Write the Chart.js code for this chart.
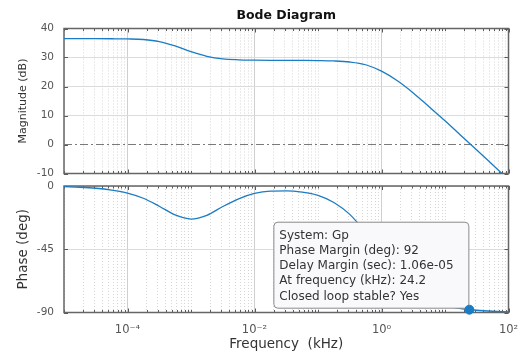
<!DOCTYPE html>
<html><head><meta charset="utf-8">
<script src="https://cdn.jsdelivr.net/npm/chart.js@4.4.1/dist/chart.umd.min.js"></script>
<style>
html,body{margin:0;padding:0;background:#fff;}
body{width:521px;height:353px;position:relative;overflow:hidden;}
canvas{position:absolute;left:0;}
#mag{top:0;}
#ph{top:178px;}
</style></head><body>
<canvas id="mag" width="521" height="180"></canvas>
<canvas id="ph" width="521" height="175"></canvas>
<script>
// ---- data ----
const freqKHz = [1e-5, 1.778e-5, 3.162e-5, 5.623e-5, 1e-4, 1.778e-4, 3.162e-4, 5.623e-4,
  1e-3, 1.778e-3, 3.162e-3, 5.623e-3, 1e-2, 1.778e-2, 3.162e-2, 5.623e-2,
  0.1, 0.1778, 0.3162, 0.5623, 1, 1.778, 3.162, 5.623, 10, 17.78, 31.62, 56.23, 100];
const magnitudeDB = [36.5, 36.5, 36.49, 36.46, 36.4, 36.2, 35.5, 34.0,
  32.0, 30.4, 29.5, 29.2, 29.08, 29.02, 29.0, 28.98,
  28.94, 28.82, 28.45, 27.5, 25.3, 22.0, 17.8, 13.0, 8.2, 3.1, -1.9, -7.0, -12.1];
const phaseDeg = [-0.5, -0.9, -1.6, -2.9, -5.0, -8.7, -14.4, -20.6,
  -23.5, -20.9, -14.6, -9.1, -5.3, -3.6, -3.4, -4.3,
  -6.6, -11.7, -20.2, -33.2, -49.3, -64.2, -74.8, -81.3, -85.1, -87.2, -88.4, -89.1, -89.5];
const zeroLineFreq = [1e-5, 100];
const zeroLineDB = [0, 0];
const magTicks = [-10, 0, 10, 20, 30, 40];
const phaseTicks = [-90, -45, 0];
const freqTickValues = [1e-4, 1e-2, 1, 100];
const freqTickLabels = ['10\u207B\u2074', '10\u207B\u00B2', '10\u2070', '10\u00B2'];
const freqRange = [1e-5, 100];
const marginFreq = [24.2];
const marginPhase = [-88];
const tipLines = ['System: Gp', 'Phase Margin (deg): 92', 'Delay Margin (sec): 1.06e-05',
  'At frequency (kHz): 24.2', 'Closed loop stable? Yes'];

// ---- styling ----
Chart.defaults.font.family = '"DejaVu Sans", sans-serif';
const BLUE = '#1a7cc4';
const isMajor = v => freqTickValues.some(t => Math.abs(Math.log10(v) - Math.log10(t)) < 1e-6);
function logTicks(scale) {
  const t = [];
  const e0 = Math.round(Math.log10(freqRange[0])), e1 = Math.round(Math.log10(freqRange[1]));
  for (let e = e0; e < e1; e++) for (let m = 1; m <= 9; m++) {
    const v = m * Math.pow(10, e);
    t.push({value: v, major: isMajor(v)});
  }
  t.push({value: freqRange[1], major: true});
  scale.ticks = t;
}
const noPad = s => { s.paddingLeft = 0; s.paddingRight = 0; s.paddingTop = 0; s.paddingBottom = 0; };
const xGrid = {
  drawTicks: false,
  color: c => (c.tick && isMajor(c.tick.value)) ? '#cfcfcf' : '#d6d6d6',
  lineWidth: 1
};
const xBorder = {display: false, dash: c => (c.tick && !isMajor(c.tick.value)) ? [1, 2] : []};

const framePlugin = {
  id: 'frame',
  beforeDatasetsDraw(chart) {
    const a = chart.chartArea, ctx = chart.ctx;
    ctx.save();
    ctx.strokeStyle = '#5a5a5a';
    ctx.lineWidth = 1;
    ctx.beginPath();
    const xs = chart.scales.x;
    xs.ticks.forEach(t => {
      const px = Math.round(xs.getPixelForValue(t.value)) + 0.5;
      const len = isMajor(t.value) ? 4 : 2.5;
      ctx.moveTo(px, a.top); ctx.lineTo(px, a.top + len);
      ctx.moveTo(px, a.bottom); ctx.lineTo(px, a.bottom - len);
    });
    const ys = chart.scales.y;
    ys.ticks.forEach(t => {
      const py = Math.round(ys.getPixelForValue(t.value)) + 0.5;
      ctx.moveTo(a.left, py); ctx.lineTo(a.left + 4, py);
      ctx.moveTo(a.right, py); ctx.lineTo(a.right - 4, py);
    });
    ctx.stroke();
    ctx.strokeStyle = '#666';
    ctx.lineWidth = 1.5;
    ctx.strokeRect(a.left, a.top, a.right - a.left, a.bottom - a.top);
    ctx.restore();
  }
};

const tipPlugin = {
  id: 'datatip',
  beforeDatasetDraw(chart, args) {
    if (args.index !== 1) return;
    const pt = args.meta.data[0];
    const w = 195, h = 86;
    const x0 = pt.x - 1 - w, y0 = pt.y - 2 - h;
    const ctx = chart.ctx;
    ctx.save();
    ctx.beginPath();
    ctx.roundRect(x0 + 0.5, y0 + 0.5, w, h, 4);
    ctx.fillStyle = '#f9f9fc';
    ctx.fill();
    ctx.strokeStyle = '#8a8a8a';
    ctx.lineWidth = 1;
    ctx.stroke();
    ctx.fillStyle = '#333';
    ctx.font = '12px "DejaVu Sans"';
    ctx.textBaseline = 'middle';
    tipLines.forEach((s, i) => ctx.fillText(s, x0 + 6, y0 + 14 + i * 15.2));
    ctx.restore();
  }
};

const pts = (xs, ys) => xs.map((x, i) => ({x, y: ys[i]}));

new Chart(document.getElementById('mag'), {
  type: 'line',
  data: {datasets: [
    {data: pts(freqKHz, magnitudeDB), borderColor: BLUE, borderWidth: 1.3, pointRadius: 0,
     cubicInterpolationMode: 'monotone', order: 1},
    {data: pts(zeroLineFreq, zeroLineDB), borderColor: '#7a7a7a', borderWidth: 1, pointRadius: 0,
     borderDash: [8, 3, 2, 3], order: 2}
  ]},
  options: {
    responsive: false, animation: false, devicePixelRatio: 1,
    layout: {padding: {left: 0, right: 12.5, top: 0, bottom: 6.5}},
    plugins: {legend: {display: false}, tooltip: {enabled: false}},
    scales: {
      x: {type: 'logarithmic', min: freqRange[0], max: freqRange[1],
          afterBuildTicks: logTicks, afterFit: s => { s.height = 0; noPad(s); },
          ticks: {display: false, autoSkip: false}, grid: xGrid, border: xBorder},
      x2: {type: 'linear', position: 'top', display: true,
           afterFit: s => { s.height = 28.5; noPad(s); },
           grid: {display: false}, border: {display: false}, ticks: {display: false},
           title: {display: true, text: 'Bode Diagram', color: '#111',
                   font: {size: 12.5, weight: 'bold'}, padding: {top: 8, bottom: 5.5}}},
      y: {min: magTicks[0], max: magTicks[magTicks.length - 1],
          afterBuildTicks: s => { s.ticks = magTicks.map(v => ({value: v})); },
          afterFit: s => { s.width = 64; noPad(s); },
          ticks: {color: '#555', font: {size: 10.5}, padding: 10},
          grid: {drawTicks: false, color: c => (c.tick && c.tick.value === 0) ? 'rgba(0,0,0,0)' : '#dcdcdc'},
          border: {display: false},
          title: {display: true, text: 'Magnitude (dB)', color: '#333', font: {size: 11},
                  padding: {top: 17, bottom: 0}}}
    }
  },
  plugins: [framePlugin]
});

new Chart(document.getElementById('ph'), {
  type: 'line',
  data: {datasets: [
    {data: pts(freqKHz, phaseDeg), borderColor: BLUE, borderWidth: 1.3, pointRadius: 0,
     cubicInterpolationMode: 'monotone', order: 1},
    {type: 'scatter', data: pts(marginFreq, marginPhase), backgroundColor: BLUE, borderColor: BLUE,
     pointRadius: 4.5, clip: false, order: 0}
  ]},
  options: {
    responsive: false, animation: false, devicePixelRatio: 1,
    layout: {padding: {left: 0, right: 12.5, top: 8, bottom: 0}},
    plugins: {legend: {display: false}, tooltip: {enabled: false}},
    scales: {
      x: {type: 'logarithmic', min: freqRange[0], max: freqRange[1],
          afterBuildTicks: logTicks, afterFit: s => { s.height = 40.5; noPad(s); },
          ticks: {autoSkip: false, maxRotation: 0, color: '#555', font: {size: 11.5}, padding: 11,
                  callback: v => { const i = freqTickValues.findIndex(t => Math.abs(Math.log10(v) - Math.log10(t)) < 1e-6); return i >= 0 ? freqTickLabels[i] : ''; }},
          grid: xGrid, border: xBorder,
          title: {display: true, text: 'Frequency  (kHz)', color: '#333', font: {size: 13.5},
                  padding: {top: 0, bottom: 0}}},
      y: {min: phaseTicks[0], max: phaseTicks[phaseTicks.length - 1],
          afterBuildTicks: s => { s.ticks = phaseTicks.map(v => ({value: v})); },
          afterFit: s => { s.width = 64; noPad(s); },
          ticks: {color: '#555', font: {size: 10.5}, padding: 10},
          grid: {drawTicks: false, color: '#dcdcdc'},
          border: {display: false},
          title: {display: true, text: 'Phase (deg)', color: '#333', font: {size: 13.5},
                  padding: {top: 15, bottom: 0}}}
    }
  },
  plugins: [framePlugin, tipPlugin]
});
</script>
</body></html>
